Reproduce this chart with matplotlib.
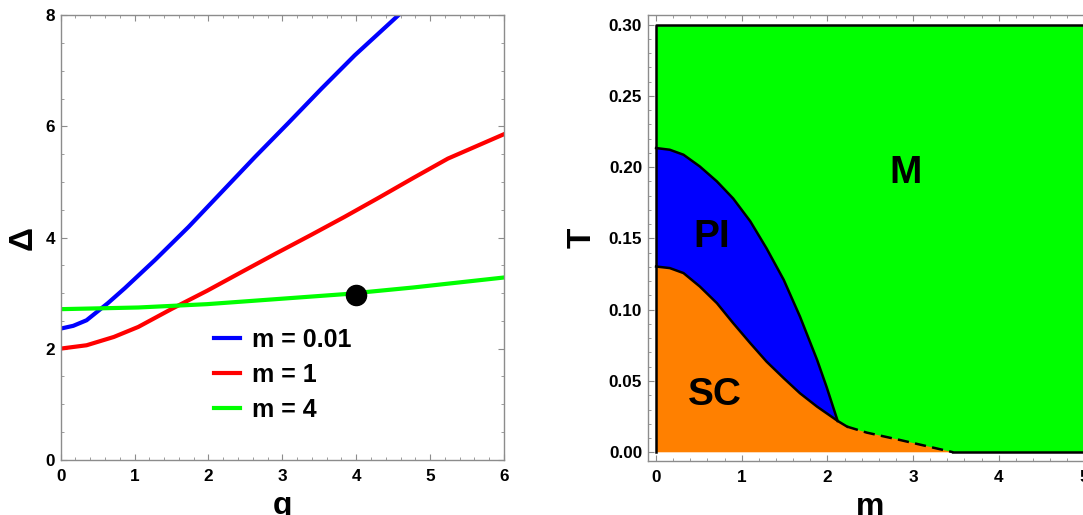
import matplotlib
matplotlib.use("Agg")
import matplotlib.pyplot as plt
from matplotlib.ticker import MultipleLocator, FormatStrFormatter

plt.rcParams['font.family'] = ['Liberation Sans', 'DejaVu Sans']
plt.rcParams['font.weight'] = 'bold'

# ---- Left panel data ----
q_blue = [0.0, 0.17, 0.35, 0.64, 0.87, 1.28, 1.73, 2.18, 2.63, 3.08, 3.53, 3.98, 4.57, 4.7]
d_blue = [2.36, 2.41, 2.51, 2.82, 3.09, 3.60, 4.19, 4.82, 5.45, 6.06, 6.68, 7.28, 8.0, 8.15]
q_red = [0.0, 0.35, 0.72, 1.05, 1.51, 1.98, 2.45, 2.91, 3.38, 3.84, 4.31, 4.77, 5.24, 6.0]
d_red = [2.0, 2.06, 2.21, 2.39, 2.72, 3.04, 3.38, 3.71, 4.04, 4.37, 4.72, 5.07, 5.42, 5.86]
q_green = [0.0, 1.05, 1.98, 2.91, 3.84, 4.77, 6.0]
d_green = [2.71, 2.74, 2.80, 2.89, 2.98, 3.10, 3.28]
labels = ['m = 0.01', 'm = 1', 'm = 4']
dot_q, dot_d = [4.0], [2.96]

# ---- Right panel data ----
pi_m = [0.0, 0.16, 0.32, 0.51, 0.71, 0.90, 1.10, 1.29, 1.49, 1.68, 1.88, 1.99, 2.12]
pi_T = [0.2134, 0.2122, 0.2087, 0.2005, 0.190, 0.178, 0.162, 0.143, 0.121, 0.0952, 0.0648, 0.046, 0.022]
sc_m = [0.0, 0.16, 0.32, 0.51, 0.71, 0.90, 1.10, 1.29, 1.49, 1.68, 1.88, 2.12]
sc_T = [0.1303, 0.1292, 0.1257, 0.1163, 0.1046, 0.0906, 0.0765, 0.0636, 0.052, 0.0414, 0.032, 0.022]
tail_m = [2.12, 2.23]
tail_T = [0.022, 0.018]
dash_m = [2.23, 2.46, 2.85, 3.24, 3.47]
dash_T = [0.018, 0.0138, 0.0086, 0.0032, 0.0]
m_max, T_max = 5.0, 0.30
region_labels = [('M', 2.91, 0.196), ('PI', 0.65, 0.151), ('SC', 0.69, 0.040)]

W, H = 1083, 515
fig = plt.figure(figsize=(W / 100, H / 100), dpi=100)
frame_col = '#8c8c8c'

def style(ax):
    for s in ax.spines.values():
        s.set_color(frame_col)
        s.set_linewidth(1.0)
    ax.tick_params(which='both', direction='in', top=True, right=True,
                   color=frame_col, labelsize=12.3, labelcolor='black')
    ax.tick_params(which='major', length=4.5, width=0.8)
    ax.tick_params(which='minor', length=2.5, width=0.6)
    ax.tick_params(axis='x', which='major', pad=7)
    ax.tick_params(axis='y', which='major', pad=4)
    for lab in ax.get_xticklabels() + ax.get_yticklabels():
        lab.set_fontweight('bold')

# Left
ax1 = fig.add_axes([60.7 / W, 1 - 459.7 / H, (504 - 60.7) / W, (459.7 - 15.3) / H])
ax1.plot(q_blue, d_blue, color='#0000ff', lw=3, label=labels[0])
ax1.plot(q_red, d_red, color='#ff0000', lw=3, label=labels[1])
ax1.plot(q_green, d_green, color='#00ff00', lw=3, label=labels[2])
ax1.plot(dot_q, dot_d, 'o', color='black', ms=14.5, zorder=5)
ax1.set_xlim(0, 6)
ax1.set_ylim(0, 8)
ax1.xaxis.set_major_locator(MultipleLocator(1))
ax1.xaxis.set_minor_locator(MultipleLocator(0.2))
ax1.yaxis.set_major_locator(MultipleLocator(2))
ax1.yaxis.set_minor_locator(MultipleLocator(0.5))
ax1.set_xlabel('q', fontsize=23, fontweight='bold', labelpad=5)
ax1.set_ylabel('Δ', fontsize=24, fontweight='bold', labelpad=5)
style(ax1)
ax1.legend(loc='upper left', bbox_to_anchor=(0.346, 0.297), frameon=False,
           prop={'size': 18, 'weight': 'bold'}, handlelength=1.05,
           handletextpad=0.45, labelspacing=0.45, borderpad=0, borderaxespad=0)

# Right
ax2 = fig.add_axes([647.7 / W, 1 - 460.7 / H, (1092 - 647.7) / W, (460.7 - 15.3) / H])
ax2.fill([0, m_max, m_max, 0], [0, 0, T_max, T_max], color='#00ff00', lw=0)
ax2.fill(pi_m + sc_m[::-1], pi_T + sc_T[::-1], color='#0000ff', lw=0)
ax2.fill(sc_m + tail_m[1:] + dash_m[1:] + [0], sc_T + tail_T[1:] + dash_T[1:] + [0],
         color='#ff8000', lw=0)
ax2.plot(pi_m, pi_T, color='black', lw=1.8, solid_joinstyle='round')
ax2.plot(sc_m + tail_m[1:], sc_T + tail_T[1:], color='black', lw=1.8, solid_joinstyle='round')
ax2.plot(dash_m, dash_T, color='black', lw=1.8, ls=(0, (4.5, 2.5)))
ax2.plot([dash_m[-1], m_max, m_max, 0, 0], [0, 0, T_max, T_max, 0], color='black', lw=1.8)
for txt, xm, yt in region_labels:
    ax2.text(xm, yt, txt, fontsize=28, fontweight='bold', ha='center', va='center')
ax2.set_xlim(-0.098, 5.09)
ax2.set_ylim(-0.0059, 0.3065)
ax2.xaxis.set_major_locator(MultipleLocator(1))
ax2.xaxis.set_minor_locator(MultipleLocator(0.2))
ax2.yaxis.set_major_locator(MultipleLocator(0.05))
ax2.yaxis.set_minor_locator(MultipleLocator(0.01))
ax2.yaxis.set_major_formatter(FormatStrFormatter('%.2f'))
ax2.set_xlabel('m', fontsize=23, fontweight='bold', labelpad=5)
ax2.set_ylabel('T', fontsize=24, fontweight='bold', labelpad=8)
style(ax2)

fig.savefig('out.png', dpi=100)
